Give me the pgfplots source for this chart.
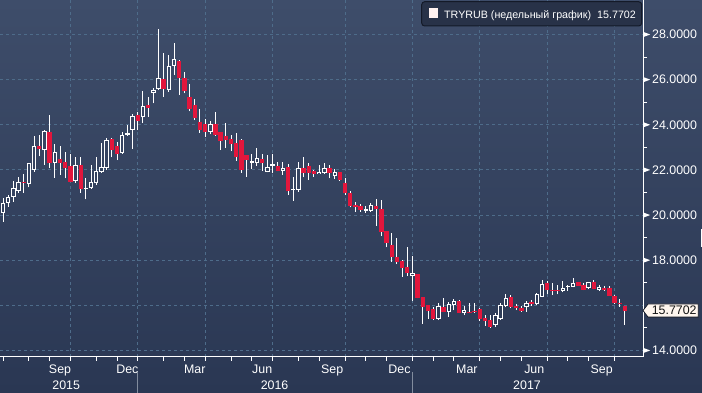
\documentclass[border=0pt]{standalone}
\usepackage{pgfplots}
\pgfplotsset{compat=1.18}
\usepackage{pgfplotstable}
\usepackage{fontspec}
\setmainfont{Liberation Sans}
\definecolor{bgtop}{RGB}{62,77,106}
\definecolor{bgbot}{RGB}{42,55,83}
\definecolor{gridc}{RGB}{78,108,138}
\definecolor{candred}{RGB}{226,22,60}
\definecolor{sepc}{RGB}{130,140,158}
\definecolor{legfill}{RGB}{40,50,72}
\definecolor{legdraw}{RGB}{20,26,40}
\definecolor{tagfill}{RGB}{255,246,238}
\definecolor{sqfill}{RGB}{255,242,240}
\newcommand\lf{\fontsize{12.4}{14}\selectfont}
\newcommand\tri{\tikz[baseline=-4.3pt]\fill[white] (0pt,-2.6pt) -- (0pt,2.6pt) -- (7pt,0pt) -- cycle;\hspace{2pt}}

% weekly candles: index, open, high, low, close
\pgfplotstableread{
i o h l c
0 20.10 20.75 19.70 20.55
1 20.55 20.90 20.37 20.81
2 20.81 21.51 20.59 21.19
3 21.08 21.68 21.00 21.45
5 21.38 22.30 21.23 22.29
6 22.00 23.50 21.93 23.06
8 22.88 23.77 22.22 23.72
10 22.32 23.15 21.66 22.78
14 21.51 22.59 21.44 22.20
16 21.17 21.63 20.70 21.21
17 21.19 22.22 21.17 21.47
18 21.41 22.59 21.34 21.97
19 21.93 23.21 21.88 22.12
20 22.07 23.40 22.00 23.33
23 22.74 23.70 22.72 23.55
24 23.55 23.99 23.50 23.62
25 23.79 24.50 22.95 24.38
27 24.33 25.51 24.07 24.83
29 25.42 25.62 24.95 25.54
30 25.57 28.23 25.54 26.06
32 25.54 27.09 25.47 26.60
33 26.62 27.64 26.21 26.92
40 23.70 24.17 23.58 24.02
48 22.32 22.71 22.04 22.38
49 22.32 22.96 22.19 22.51
51 21.92 22.66 21.89 22.11
52 22.19 22.71 21.88 22.25
54 21.97 22.37 21.78 22.10
56 21.10 21.67 20.64 21.14
57 21.11 22.34 21.04 22.07
61 21.82 22.20 21.80 21.91
62 21.88 22.29 21.82 22.07
64 21.73 22.04 21.60 21.92
70 20.19 20.42 20.11 20.27
71 20.19 20.52 20.15 20.45
79 17.31 18.19 16.19 17.42
84 15.40 16.09 15.35 15.97
86 15.72 16.16 15.50 16.05
87 16.02 16.28 15.79 16.19
89 15.68 15.97 15.57 15.79
95 15.13 15.68 15.06 15.57
96 15.38 16.09 15.36 16.02
97 15.99 16.50 15.91 16.31
101 15.91 16.19 15.72 16.09
103 16.04 16.53 16.02 16.49
104 16.39 17.12 16.36 16.95
108 16.64 17.08 16.58 16.75
109 16.83 16.90 16.65 16.87
110 16.83 17.20 16.80 16.98
113 16.78 17.05 16.71 17.02
115 16.68 16.90 16.64 16.80
}\upc

\pgfplotstableread{
i o h l c
4 21.48 21.82 21.00 21.41
7 23.06 23.55 22.60 22.93
9 23.68 24.43 22.07 22.32
11 22.47 23.06 21.78 22.32
12 22.37 22.81 21.63 22.10
13 22.17 22.71 21.45 21.48
15 22.20 22.56 20.99 21.14
21 23.36 23.40 22.56 22.88
22 23.06 23.25 22.44 22.71
26 24.43 24.55 23.77 24.17
28 24.88 25.22 24.36 24.76
31 26.01 27.20 25.25 25.59
34 26.83 26.85 25.32 26.09
35 26.06 26.35 25.39 25.51
36 25.22 25.81 24.60 24.70
37 24.88 25.14 24.21 24.32
38 24.14 24.70 23.65 23.77
39 24.04 24.26 23.47 23.69
41 24.04 24.58 23.50 23.55
42 23.69 23.70 22.90 23.28
43 23.51 24.08 22.99 23.33
44 23.37 23.55 22.83 23.15
45 23.18 23.62 22.41 22.59
46 23.33 23.37 21.88 21.99
47 22.66 22.68 21.70 22.44
50 22.47 22.71 21.97 22.32
53 22.17 22.37 21.95 21.97
55 22.12 22.26 20.89 21.08
58 22.07 22.56 21.67 21.85
59 22.19 22.29 21.55 21.88
60 21.95 21.99 21.70 21.82
63 22.07 22.22 21.63 21.85
65 21.89 21.90 21.52 21.55
66 21.40 21.63 20.89 20.96
67 20.96 21.07 20.34 20.40
68 20.45 20.57 20.15 20.37
69 20.42 20.49 20.15 20.22
72 20.40 20.70 19.52 20.25
73 20.27 20.67 19.07 19.26
74 19.29 19.30 18.57 18.78
75 18.67 19.22 17.94 18.13
76 18.13 18.97 17.83 17.94
77 17.98 17.99 17.27 17.67
78 17.68 18.60 17.30 17.45
80 17.39 17.41 16.32 16.34
81 16.36 16.37 15.17 15.94
82 16.02 16.03 15.40 15.77
83 15.84 15.91 15.35 15.40
85 15.91 16.31 15.70 15.72
88 16.19 16.24 15.66 15.68
90 15.72 16.09 15.64 15.68
91 15.75 16.09 15.67 15.71
92 15.82 15.87 15.31 15.40
93 15.45 15.57 15.09 15.32
94 15.35 15.57 15.01 15.06
98 16.36 16.46 15.87 15.91
99 15.97 16.06 15.79 15.87
100 15.90 15.97 15.72 15.77
102 16.16 16.24 15.99 16.04
105 16.98 17.08 16.50 16.68
106 16.68 17.01 16.46 16.64
107 16.68 16.90 16.49 16.64
111 17.02 17.03 16.86 16.87
112 16.90 17.01 16.67 16.68
114 17.02 17.12 16.71 16.72
116 16.78 16.86 16.64 16.68
117 16.75 16.86 16.42 16.43
118 16.41 16.46 16.07 16.09
119 16.12 16.27 15.94 16.04
120 15.99 15.99 15.13 15.77
}\dnc

\begin{document}
\begin{tikzpicture}
\path[use as bounding box] (0pt,0pt) rectangle (702pt,393pt);
\fill[top color=bgtop, bottom color=bgbot] (0pt,0pt) rectangle (702pt,393pt);
\fill[white] (700.5pt,146pt) rectangle (702pt,164pt);
\begin{axis}[
  at={(0pt,36pt)}, anchor=south west,
  scale only axis, width=643pt, height=357pt,
  xmin=-0.579, xmax=123.48, ymin=13.712, ymax=29.53,
  axis x line*=bottom, axis y line*=right,
  axis line style={white, line width=1pt, -},
  tick style={white, line width=1pt},
  tick align=outside,
  major tick length=4pt, minor tick length=4pt,
  xtick={13,26,39,52,66,79,92,105,118},
  xticklabels={},
  minor xtick={0,5,9,18,22,31,35,44,48,57,61,70,74,83,87,96,100,109,113},
  xmajorgrids=true,
  ytick={15,17,...,27}, yticklabels={},
  extra y ticks={14,16,...,28},
  extra y tick labels={\tri 14.0000,{},\tri 18.0000,\tri 20.0000,\tri 22.0000,\tri 24.0000,\tri 26.0000,\tri 28.0000},
  extra y tick style={ymajorgrids=true, major tick length=0pt},
  yticklabel style={anchor=west, inner sep=0pt, xshift=0pt, font=\lf, text=white},
  major grid style={gridc, line width=1pt, dash pattern=on 3pt off 3pt},
  clip mode=individual,
  colormap={bgmap}{rgb255(0cm)=(42,55,83) rgb255(1cm)=(62,77,106)},
  point meta min=12.117, point meta max=29.53,
]
% wicks
\addplot[white, line width=1pt, quiver={u=0, v=\thisrow{h}-\thisrow{l}}] table[x=i, y=l] {\upc};
\addplot[white, line width=1pt, quiver={u=0, v=\thisrow{h}-\thisrow{l}}] table[x=i, y=l] {\dnc};
% bodies
\addplot[candred, line width=4.4pt, quiver={u=0, v=\thisrow{c}-\thisrow{o}}] table[x=i, y=o] {\dnc};
\addplot[white, line width=4.4pt, quiver={u=0, v=\thisrow{c}-\thisrow{o}}] table[x=i, y=o] {\upc};
\addplot[line width=2.4pt, point meta={0.5*(\thisrow{o}+\thisrow{c})},
  quiver={u=0, v={max(\thisrow{c}-\thisrow{o}-0.0886,0)}, colored=mapped color}]
  table[x=i, y expr=\thisrow{o}+0.0443] {\upc};

% month labels
\node[anchor=base, text=white, font=\lf] at ([yshift=-16.3pt]axis cs:11,13.712) {Sep};
\node[anchor=base, text=white, font=\lf] at ([yshift=-16.3pt]axis cs:24,13.712) {Dec};
\node[anchor=base, text=white, font=\lf] at ([yshift=-16.3pt]axis cs:37,13.712) {Mar};
\node[anchor=base, text=white, font=\lf] at ([yshift=-16.3pt]axis cs:50,13.712) {Jun};
\node[anchor=base, text=white, font=\lf] at ([yshift=-16.3pt]axis cs:63.5,13.712) {Sep};
\node[anchor=base, text=white, font=\lf] at ([yshift=-16.3pt]axis cs:76.5,13.712) {Dec};
\node[anchor=base, text=white, font=\lf] at ([yshift=-16.3pt]axis cs:89.5,13.712) {Mar};
\node[anchor=base, text=white, font=\lf] at ([yshift=-16.3pt]axis cs:102.5,13.712) {Jun};
\node[anchor=base, text=white, font=\lf] at ([yshift=-16.3pt]axis cs:115.5,13.712) {Sep};
% years
\node[anchor=base, text=white, font=\lf] at ([yshift=-32.3pt]axis cs:12.2,13.712) {2015};
\node[anchor=base, text=white, font=\lf] at ([yshift=-32.3pt]axis cs:52.4,13.712) {2016};
\node[anchor=base, text=white, font=\lf] at ([yshift=-32.3pt]axis cs:101.1,13.712) {2017};
\draw[sepc, line width=1pt] ([yshift=-15pt]axis cs:26,13.712) -- ([yshift=-37pt]axis cs:26,13.712);
\draw[sepc, line width=1pt] ([yshift=-15pt]axis cs:79,13.712) -- ([yshift=-37pt]axis cs:79,13.712);
% last price tag
\draw[legdraw, fill=tagfill, line width=0.8pt] (axis cs:123.48,15.7702) -- ++(5pt,6.6pt) -- ++(50.3pt,0pt) -- ++(0pt,-13.2pt) -- ++(-50.3pt,0pt) -- cycle;
\node[text={rgb,255:red,20;green,20;blue,20}, font=\lf, inner sep=0pt] at ([xshift=31.2pt]axis cs:123.48,15.7702) {15.7702};
\end{axis}
% legend box
\draw[legdraw, fill=legfill, rounded corners=3pt, line width=1pt] (421.7pt,367pt) rectangle (641.7pt,391.3pt);
\fill[sqfill] (429pt,375pt) rectangle (438pt,385pt);
\node[anchor=base west, inner sep=0pt, text=white, font=\fontsize{10.7}{12}\selectfont] at (444pt,374.7pt) {TRYRUB (недельный график)\hspace{6pt}15.7702};
\end{tikzpicture}
\end{document}
